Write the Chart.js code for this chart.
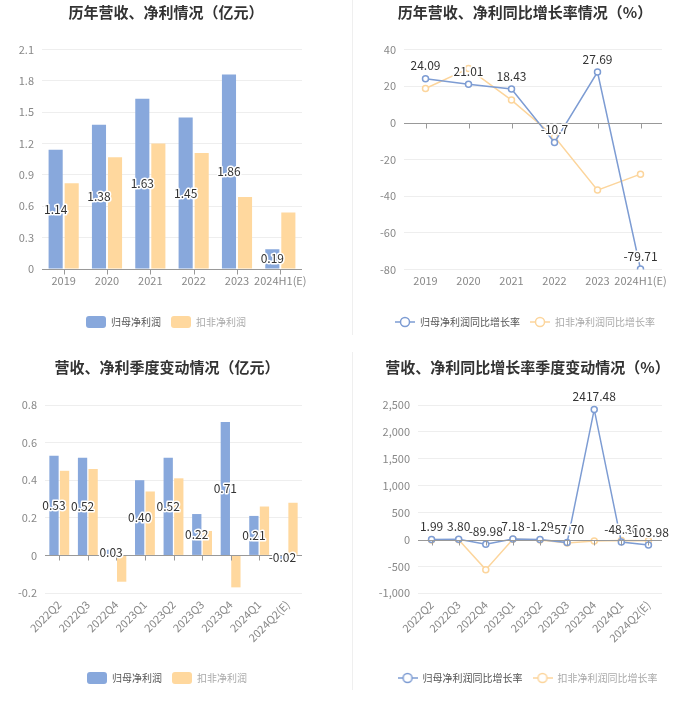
<!DOCTYPE html>
<html>
<head>
<meta charset="utf-8">
<script src="https://cdn.jsdelivr.net/npm/chart.js@4.4.1/dist/chart.umd.min.js"></script>
<style>
  body { margin: 0; background: #fff; }
  #wrap { position: relative; width: 700px; height: 716px; background: #fff; }
  canvas { position: absolute; }
  .divider { position: absolute; left: 352px; width: 1px; background: #efefef; }
</style>
</head>
<body>
<div id="wrap">
  <canvas id="c1" width="350" height="340" style="left:0;top:0"></canvas>
  <canvas id="c2" width="350" height="340" style="left:350px;top:0"></canvas>
  <canvas id="c3" width="350" height="376" style="left:0;top:340px"></canvas>
  <canvas id="c4" width="350" height="376" style="left:350px;top:340px"></canvas>
  <div class="divider" style="top:0;height:335px"></div>
  <div class="divider" style="top:352px;height:338px"></div>
</div>
<script>
// yearly
const years = ['2019', '2020', '2021', '2022', '2023', '2024H1(E)'];
const yearProfit = [1.14, 1.38, 1.63, 1.45, 1.86, 0.19];
const yearProfitDeducted = [0.82, 1.07, 1.20, 1.11, 0.69, 0.54];
const yearProfitGrowth = [24.09, 21.01, 18.43, -10.7, 27.69, -79.71];
const yearDeductedGrowth = [18.7, 29.6, 12.4, -7.6, -36.7, -28.0];

// quarterly
const quarters = ['2022Q2', '2022Q3', '2022Q4', '2023Q1', '2023Q2', '2023Q3', '2023Q4', '2024Q1', '2024Q2(E)'];
const quarterProfit = [0.53, 0.52, 0.03, 0.40, 0.52, 0.22, 0.71, 0.21, -0.02];
const quarterProfitDeducted = [0.45, 0.46, -0.14, 0.34, 0.41, 0.13, -0.17, 0.26, 0.28];
const quarterProfitGrowth = [1.99, 3.80, -89.98, 7.18, -1.29, -57.70, 2417.48, -48.36, -103.98];
const quarterDeductedGrowth = [-10, -5, -560, 5, -10, -65, -30, -20, -25];

const BLUE = '#88a8dc';
const YELLOW = '#ffd89e';
const LINE_BLUE = '#7d9cd3';
const LINE_YELLOW = '#fcd59c';
const FONT = '"Noto Sans CJK SC", "Noto Sans", sans-serif';

// value labels drawn on top of the marks
const valueLabels = {
    id: 'valueLabels',
    afterDatasetsDraw(chart, args, opts) {
        const ctx = chart.ctx;
        chart.data.datasets.forEach((ds, i) => {
            if (!ds.showLabels) return;
            const meta = chart.getDatasetMeta(i);
            meta.data.forEach((el, j) => {
                const v = ds.data[j];
                const txt = opts.format ? opts.format(v) : v.toFixed(2);
                let y;
                if (meta.type === 'bar') y = (el.y + el.base) / 2;
                else y = el.y - 13;
                ctx.save();
                ctx.font = '12px ' + FONT;
                ctx.textAlign = 'center';
                ctx.textBaseline = 'middle';
                ctx.lineWidth = 3;
                ctx.strokeStyle = '#fff';
                ctx.lineJoin = 'round';
                ctx.strokeText(txt, el.x, y);
                ctx.fillStyle = '#333';
                ctx.fillText(txt, el.x, y);
                ctx.restore();
            });
        });
    }
};

// zero axis line with small tick marks under it
const zeroTicks = {
    id: 'zeroTicks',
    afterDatasetsDraw(chart) {
        const ctx = chart.ctx;
        const xs = chart.scales.x, ys = chart.scales.y;
        const y0 = Math.round(ys.getPixelForValue(0)) + 0.5;
        ctx.save();
        ctx.strokeStyle = '#999';
        ctx.lineWidth = 1;
        ctx.beginPath();
        ctx.moveTo(chart.chartArea.left, y0);
        ctx.lineTo(chart.chartArea.right, y0);
        for (let i = 0; i < xs.ticks.length; i++) {
            const x = Math.round(xs.getPixelForTick(i)) + 0.5;
            ctx.moveTo(x, y0);
            ctx.lineTo(x, y0 + 5);
        }
        ctx.stroke();
        ctx.restore();
    }
};

function lineLegendIcon(color) {
    const c = document.createElement('canvas');
    c.width = 20; c.height = 12;
    const g = c.getContext('2d');
    g.strokeStyle = color;
    g.lineWidth = 1.5;
    g.beginPath();
    g.moveTo(0, 6); g.lineTo(20, 6);
    g.stroke();
    g.beginPath();
    g.arc(10, 6, 4.5, 0, Math.PI * 2);
    g.fillStyle = '#fff';
    g.fill();
    g.stroke();
    return c;
}

function legendOpts(isLine) {
    return {
        position: 'bottom',
        labels: {
            font: { size: 10, family: FONT },
            boxWidth: 20,
            boxHeight: 12,
            pointStyleWidth: 20,
            padding: 10,
            usePointStyle: isLine,
            useBorderRadius: true,
            borderRadius: 3,
            generateLabels(chart) {
                return chart.data.datasets.map((ds, i) => ({
                    text: ds.label,
                    fillStyle: isLine ? '#fff' : ds.backgroundColor,
                    strokeStyle: isLine ? ds.borderColor : ds.backgroundColor,
                    lineWidth: 0,
                    pointStyle: isLine ? lineLegendIcon(ds.borderColor) : undefined,
                    fontColor: i === 0 ? '#555' : '#aaa',
                    borderRadius: 3,
                    datasetIndex: i
                }));
            }
        }
    };
}

// p: yMin, yMax, step, yWidth, rightWidth, padLeft, padRight, rotate, xHeight, titleTop, titleBottom, padBottom
function baseOptions(p, title) {
    return {
        responsive: false,
        animation: false,
        layout: { padding: { left: p.padLeft, right: p.padRight, top: 0, bottom: p.padBottom } },
        scales: {
            x: {
                offset: true,
                grid: { display: false, drawTicks: false },
                border: { display: false },
                ticks: {
                    color: '#888',
                    font: { size: 11, family: FONT },
                    padding: 5,
                    autoSkip: false,
                    minRotation: p.rotate,
                    maxRotation: p.rotate
                },
                afterFit: s => { s.height = p.xHeight; }
            },
            y: {
                min: p.yMin, max: p.yMax,
                border: { display: false },
                grid: {
                    color: c => c.tick.value === 0 ? 'rgba(0,0,0,0)' : '#eeeeee',
                    drawTicks: false
                },
                ticks: {
                    stepSize: p.step,
                    color: '#888',
                    font: { size: 11, family: FONT },
                    padding: 8
                },
                afterFit: s => { s.width = p.yWidth; }
            },
            yr: {
                type: 'linear',
                position: 'right',
                grid: { display: false, drawTicks: false },
                border: { display: false },
                ticks: { display: false },
                afterFit: s => { s.width = p.rightWidth; }
            }
        },
        plugins: {
            title: {
                display: true,
                text: title,
                color: '#333',
                font: { size: 15, weight: 'bold', family: FONT },
                padding: { top: p.titleTop, bottom: p.titleBottom }
            },
            legend: legendOpts(p.isLine),
            tooltip: { enabled: false },
            valueLabels: { format: p.format }
        }
    };
}

function barChart(id, title, labels, a, b, p) {
    const options = baseOptions(p, title);
    options.categoryPercentage = 0.74;
    options.barPercentage = 0.88;
    return new Chart(document.getElementById(id).getContext('2d'), {
        type: 'bar',
        data: {
            labels: labels,
            datasets: [
                { label: '归母净利润', data: a, backgroundColor: BLUE, showLabels: true },
                { label: '扣非净利润', data: b, backgroundColor: YELLOW }
            ]
        },
        options: options,
        plugins: [zeroTicks, valueLabels]
    });
}

function lineChart(id, title, labels, a, b, p) {
    const ds = (label, data, color, show) => ({
        label: label, data: data, borderColor: color, backgroundColor: '#fff',
        pointBackgroundColor: '#fff', pointBorderColor: color,
        borderWidth: 1.5, pointRadius: 3, pointBorderWidth: 1.5,
        tension: 0, showLabels: show
    });
    return new Chart(document.getElementById(id).getContext('2d'), {
        type: 'line',
        data: {
            labels: labels,
            datasets: [
                ds('归母净利润同比增长率', a, LINE_BLUE, true),
                ds('扣非净利润同比增长率', b, LINE_YELLOW, false)
            ]
        },
        options: baseOptions(p, title),
        plugins: [zeroTicks, valueLabels]
    });
}

barChart('c1', '历年营收、净利情况（亿元）', years, yearProfit, yearProfitDeducted, {
    yMin: 0, yMax: 2.1, step: 0.3, yWidth: 42, rightWidth: 30, padLeft: 0, padRight: 18,
    rotate: 0, xHeight: 37, titleTop: 3, titleBottom: 28.5, padBottom: 2, isLine: false
});
lineChart('c2', '历年营收、净利同比增长率情况（%）', years, yearProfitGrowth, yearDeductedGrowth, {
    yMin: -80, yMax: 40, step: 20, yWidth: 54, rightWidth: 38, padLeft: 0, padRight: 0,
    rotate: 0, xHeight: 37.5, titleTop: 3, titleBottom: 28.5, padBottom: 3, isLine: true,
    format: v => String(v)
});
barChart('c3', '营收、净利季度变动情况（亿元）', quarters, quarterProfit, quarterProfitDeducted, {
    yMin: -0.2, yMax: 0.8, step: 0.2, yWidth: 45, rightWidth: 32, padLeft: 0, padRight: 16,
    rotate: 45, xHeight: 69, titleTop: 18, titleBottom: 29, padBottom: 22, isLine: false
});
lineChart('c4', '营收、净利同比增长率季度变动情况（%）', quarters, quarterProfitGrowth, quarterDeductedGrowth, {
    yMin: -1000, yMax: 2500, step: 500, yWidth: 63, rightWidth: 38, padLeft: 5, padRight: 0,
    rotate: 45, xHeight: 69.7, titleTop: 18, titleBottom: 29, padBottom: 23, isLine: true,
    format: v => v.toFixed(2)
});
</script>
</body>
</html>
